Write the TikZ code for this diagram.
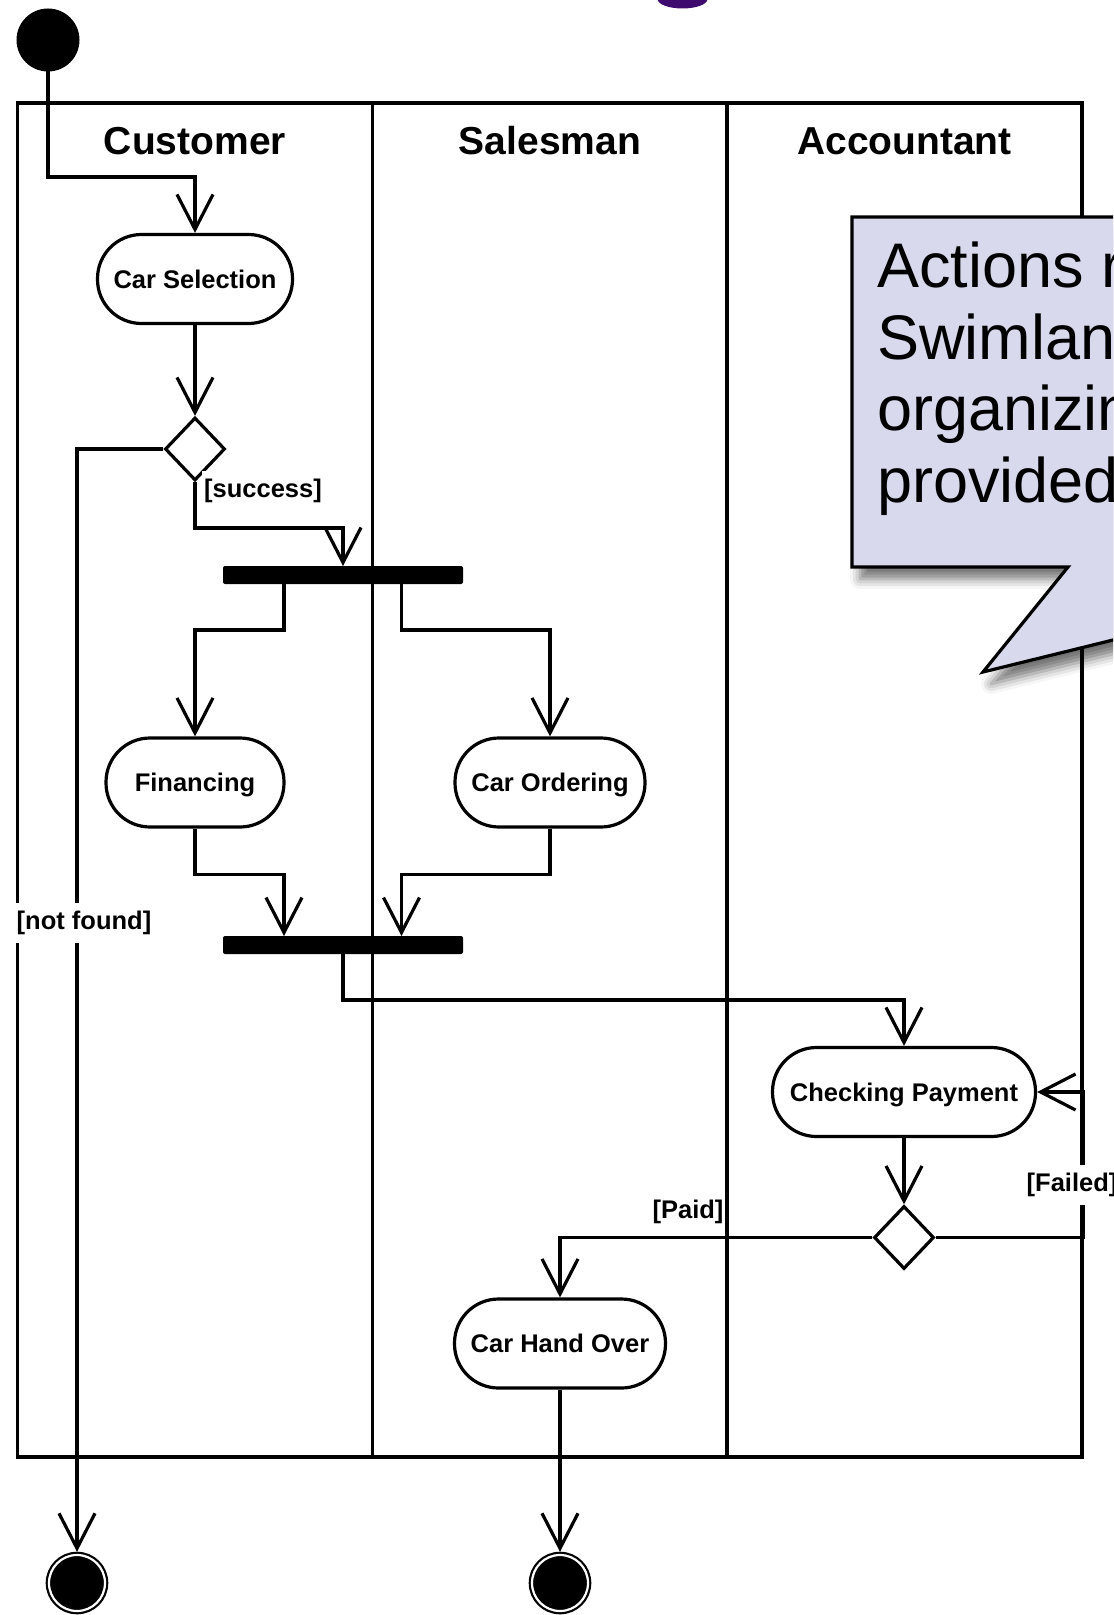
\documentclass[tikz,border=0pt]{standalone}
\usepackage{fontspec}
\setmainfont{Liberation Sans}
\usetikzlibrary{arrows.meta,shapes.geometric,shadows.blur,calc}

\definecolor{notefill}{RGB}{216,217,236}
\definecolor{titlepurple}{RGB}{62,10,110}

\begin{document}
\begin{tikzpicture}[x=0.5pt,y=-0.5pt,
  lane/.style={line width=1.65pt},
  flow/.style={line width=1.6pt, -{Straight Barb[length=17.5pt,width=18pt]}},
  action/.style={draw, line width=1.6pt, fill=white, rectangle, rounded corners=22pt,
    minimum height=44.5pt, inner sep=0pt, text height=9.2pt, text depth=0pt,
    font=\bfseries\fontsize{12.75}{15}\selectfont},
  decision/.style={draw, line width=1.6pt, fill=white, diamond, minimum width=30pt,
    minimum height=31.5pt, inner sep=0pt},
  bar/.style={fill=black, rectangle, rounded corners=1pt, minimum width=120pt,
    minimum height=9pt, inner sep=0pt, outer sep=0pt},
  startnode/.style={circle, fill=black, minimum size=31.5pt, inner sep=0pt, outer sep=0pt},
  endnode/.style={circle, fill=black, draw=black, line width=1.1pt, double=white,
    double distance=1.1pt, minimum size=28pt, inner sep=0pt, outer sep=1.6pt},
  guard/.style={font=\bfseries\fontsize{12.75}{15}\selectfont, fill=white,
    inner xsep=1pt, inner ysep=4pt, text height=9.3pt, text depth=2.7pt},
  lanehead/.style={font=\bfseries\fontsize{19.5}{23}\selectfont, text height=14pt, text depth=0pt},
  notetext/.style={font=\fontsize{31.5}{36}\selectfont, anchor=base west, inner sep=0pt}
]
\useasboundingbox (0,0) rectangle (1113,1615);
\clip (0,0) rectangle (1113,1615);

% heading fragment at the top edge
\fill[titlepurple] (682.5,-1) ellipse [x radius=25, y radius=9.5];

% swimlanes
\draw[lane] (17.5,103) rectangle (1082,1457);
\draw[lane] (372.7,103) -- (372.7,1457);
\draw[lane] (727,103) -- (727,1457);
\node[lanehead] (hcust) at (195,141) {Customer};
\node[lanehead] (hsales) at (550,141) {Salesman};
\node[lanehead] (hacc) at (904.5,141) {Accountant};

% note callout
\path[fill=notefill, draw=black, line width=1.6pt,
  blur shadow={shadow xshift=4pt, shadow yshift=-6pt, shadow blur radius=5pt, shadow opacity=55}]
  (852,217) -- (1135,217) -- (1135,634.6) -- (983,672) -- (1068,567) -- (852,567) -- cycle;
\node[notetext] (n1) at (877,288) {Actions r};
\node[notetext] (n2) at (877,359) {Swimlan};
\node[notetext] (n3) at (877,430) {organizin};
\node[notetext] (n4) at (877,502) {provided};

% nodes
\node[startnode] (start) at (48,40) {};
\node[action, minimum width=97.5pt] (cs) at (195,279) {Car Selection};
\node[decision] (d1) at (195,449) {};
\node[bar] (f1) at (343,575) {};
\node[action, minimum width=89pt] (fin) at (195,782.5) {Financing};
\node[action, minimum width=95pt] (co) at (550,782.5) {Car Ordering};
\node[bar] (j1) at (343,945) {};
\node[action, minimum width=131.5pt] (cp) at (904,1092) {Checking Payment};
\node[decision] (d2) at (904,1237.5) {};
\node[action, minimum width=105.5pt] (cho) at (560,1343.5) {Car Hand Over};
\node[endnode] (e1) at (77,1583) {};
\node[endnode] (e2) at (560,1583) {};

\coordinate (b1) at (48,177);
\coordinate (b2) at (195,528);

% control flows
\draw[flow] (start) -- (b1) -| (cs);
\draw[flow] (cs) -- (d1);
\draw[flow] (d1) -- (b2) -| (f1);
\draw[flow] (d1) -| (e1);
\draw[flow] ([xshift=-29.5pt]f1.south) -- ++(0,46) -| (fin);
\draw[flow] ([xshift=29.25pt]f1.south) -- ++(0,46) -| (co);
\draw[flow] (fin.south) -- ++(0,46) -| ([xshift=-29.5pt]j1.north);
\draw[flow] (co.south) -- ++(0,46) -| ([xshift=29.25pt]j1.north);
\draw[flow] (j1.south) -- ++(0,46) -| (cp);
\draw[flow] (cp) -- (d2);
\draw[flow] (d2) -| (cho);
\draw[flow] (d2.east) -| ($(cp.east)+(46,0)$) -- (cp.east);
\draw[flow] (cho) -- (e2);

% guards
\node[guard] (gsuccess) at (263,491) {[success]};
\node[guard] (gnotfound) at (84,923) {[not found]};
\node[guard] (gpaid) at (688,1212) {[Paid]};
\node[guard] (gfailed) at (1072,1185) {[Failed]};
\end{tikzpicture}
\end{document}
